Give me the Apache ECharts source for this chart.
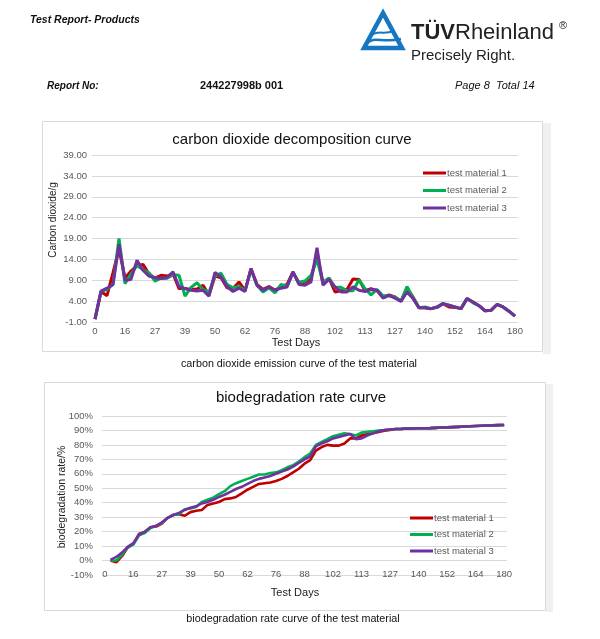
<!DOCTYPE html>
<html><head><meta charset="utf-8">
<script src="https://cdn.jsdelivr.net/npm/echarts@6/dist/echarts.min.js"></script>
<style>html,body{margin:0;padding:0;background:#fff}#c{width:600px;height:639px}</style>
</head><body><div id="c"></div>
<script>
const days = [0,3,6,9,13,16,18,20,22,25,27,29,32,34,37,39,41,43,46,48,50,53,55,57,60,62,65,67,70,73,76,78,81,83,85,88,91,93,96,99,102,104,106,109,111,113,116,119,122,124,127,130,132,135,137,140,142,145,147,150,152,154,157,159,162,164,167,170,173,177,180];
const seriesNames = ['test material 1','test material 2','test material 3'];
const seriesColors = ['#C00000','#00B050','#7030A0'];

const co2Material1 = [-0.3,6.3,5.3,10.8,16.5,9.5,11.2,12.5,12.8,10.5,9.5,10.2,10.0,10.6,7.0,7.0,6.8,6.9,7.8,5.5,10.0,9.6,7.2,7.0,8.6,6.5,11.8,8.0,6.8,7.5,6.6,7.5,8.0,11.0,8.2,8.5,9.5,15.0,8.5,9.5,6.2,6.5,6.8,9.3,9.2,6.5,7.0,6.5,5.0,5.5,5.0,4.0,7.2,5.0,2.4,2.4,2.2,2.6,3.4,2.6,2.5,2.2,4.6,3.8,2.9,1.7,1.8,3.2,2.6,1.6,0.4];
const co2Material2 = [-0.3,6.3,6.8,8.0,19.0,8.2,10.5,12.5,11.5,10.8,8.8,9.5,9.5,10.3,10.2,5.2,7.3,8.4,6.8,6.2,10.0,10.7,8.0,7.2,7.5,6.5,11.5,7.8,6.2,7.2,6.0,8.0,7.5,10.8,8.5,8.8,10.2,14.0,8.3,9.5,7.3,7.3,6.5,6.5,9.1,7.0,5.5,6.8,5.3,5.3,5.0,4.0,7.5,4.8,2.4,2.6,2.2,2.5,3.4,3.0,2.6,2.2,4.6,3.6,2.9,1.7,1.8,3.2,2.6,1.6,0.4];
const co2Material3 = [-0.3,6.4,7.1,8.0,17.6,9.0,9.2,13.8,11.4,10.0,9.6,9.4,9.6,11.0,7.5,7.0,6.6,6.4,6.6,5.2,10.9,9.8,7.5,6.3,7.1,6.3,11.8,7.8,6.6,7.4,6.6,7.1,7.4,11.0,8.0,7.8,8.6,16.8,7.8,9.2,7.4,6.2,6.2,7.4,6.6,6.3,6.8,6.6,4.7,5.4,4.7,3.9,6.2,4.6,2.4,2.4,2.2,2.5,3.4,3.0,2.6,2.2,4.6,3.8,2.9,1.7,1.8,3.2,2.6,1.6,0.4];

const bioMaterial1 = [null,0,-1.2,3,9,11.5,18.5,19.5,23,23.5,25.5,29.5,31.5,32,31,33.5,34.5,35,38.5,39.5,40.5,42.5,43,44,46.5,49,51,53,53.5,54,55,56.5,58.5,61,63.5,67,69.5,76,78.5,80,79.5,79.5,81,84.5,84.5,86.5,87.5,88,89,89.8,90.4,91.0,91.1,91.3,91.4,91.5,91.5,91.6,91.8,92.0,92.1,92.3,92.5,92.7,92.9,93.1,93.3,93.4,93.5,93.7,93.8];
const bioMaterial2 = [null,0,0,4,9,11,17.5,19,22.5,24,26,29.5,31.5,32,35.5,36,37,40.5,42,43.5,46,48,51.5,53.5,55,56.5,58,59.5,59.5,60.5,61,62.5,64.5,66,68.5,71.5,74,80,82,84,86,87,88,87.5,86.5,88.5,89,89.5,90,90.3,90.7,91.0,91.1,91.3,91.4,91.5,91.5,91.6,91.8,92.0,92.1,92.3,92.5,92.7,92.9,93.1,93.3,93.4,93.5,93.7,93.8];
const bioMaterial3 = [null,0.5,2.5,5.5,9.5,12,18,20,23,24,26.5,29.5,31.5,33,35,36.5,37.5,39.5,40.5,42,44,45.5,47.5,49.5,51,53,55,56.5,57.5,58.5,60,61.5,63,65,67.5,70,72,79,81,82.5,84.5,85.5,86.5,87.5,84,84.5,86.5,88,89.5,90.3,90.7,91.0,91.1,91.3,91.4,91.5,91.5,91.6,91.8,92.0,92.1,92.3,92.5,92.7,92.9,93.1,93.3,93.4,93.5,93.7,93.8];

const co2Axis = {min:-1, max:39, step:5};
const bioAxis = {min:-10, max:100, step:10};

const FONT = "'Liberation Sans', Arial, sans-serif";
const chart = echarts.init(document.getElementById('c'), null, {renderer:'canvas'});

function mkSeries(names, datas, ax, width){
  return names.map((n,i)=>({
    name:n, type:'line', xAxisIndex:ax, yAxisIndex:ax, data:datas[i],
    symbol:'none', connectNulls:false, smooth:false,
    lineStyle:{color:seriesColors[i], width:width}, itemStyle:{color:seriesColors[i]}, z:3
  }));
}
const gridLine = {show:true, lineStyle:{color:'#d9d9d9', width:1}};
function txt(x,y,text,font,fill,align,extra){
  return Object.assign({type:'text', x:x, y:y, style:{text:text, font:font, fill:fill||'#000', align:align||'left', verticalAlign:'middle'}}, extra||{});
}
function curve(x1,y1,c1x,c1y,c2x,c2y,x2,y2,w){
  return {type:'bezierCurve', shape:{x1:x1,y1:y1,cpx1:c1x,cpy1:c1y,cpx2:c2x,cpy2:c2y,x2:x2,y2:y2}, style:{fill:'none', stroke:'#1577c2', lineWidth:w}};
}

chart.setOption({
  animation:false,
  backgroundColor:'#ffffff',
  textStyle:{fontFamily:FONT},
  grid:[
    {left:92, right:82, top:155, bottom:317, containLabel:false},
    {left:102, right:93, top:416, bottom:64, containLabel:false}
  ],
  legend:[
    {data:seriesNames, orient:'vertical', left:423, top:168, padding:0, icon:'rect', itemWidth:23, itemHeight:3, itemGap:7.5,
     textStyle:{fontSize:9.5, color:'#595959', fontFamily:FONT, padding:[0,0,0,-4]}},
    {data:seriesNames, orient:'vertical', left:410, top:513, padding:0, icon:'rect', itemWidth:23, itemHeight:3, itemGap:6.5,
     textStyle:{fontSize:9.5, color:'#595959', fontFamily:FONT, padding:[0,0,0,-4]}}
  ],
  xAxis:[
    {type:'category', gridIndex:0, data:days, boundaryGap:true,
     axisLine:{show:false}, axisTick:{show:false},
     axisLabel:{interval:4, margin:4, fontSize:9.5, color:'#595959', fontFamily:FONT}},
    {type:'category', gridIndex:1, data:days, boundaryGap:true,
     axisLine:{show:false}, axisTick:{show:false},
     axisLabel:{interval:4, margin:-1, verticalAlign:'middle', fontSize:9.5, color:'#595959', fontFamily:FONT}}
  ],
  yAxis:[
    {type:'value', gridIndex:0, min:co2Axis.min, max:co2Axis.max, interval:co2Axis.step,
     splitLine:gridLine, axisLine:{show:false}, axisTick:{show:false},
     axisLabel:{margin:5, fontSize:9.5, color:'#595959', fontFamily:FONT, formatter:v=>v.toFixed(2)}},
    {type:'value', gridIndex:1, min:bioAxis.min, max:bioAxis.max, interval:bioAxis.step,
     splitLine:gridLine, axisLine:{show:false}, axisTick:{show:false},
     axisLabel:{margin:9, fontSize:9.5, color:'#595959', fontFamily:FONT, formatter:v=>Math.round(v)+'%'}}
  ],
  series:[].concat(
    mkSeries(seriesNames,[co2Material1,co2Material2,co2Material3],0,3),
    mkSeries(seriesNames,[bioMaterial1,bioMaterial2,bioMaterial3],1,2.6)
  ),
  graphic:[
    {type:'rect', shape:{x:543,y:123,width:8,height:231}, style:{fill:'#f0f0f0'}, z:-5},
    {type:'rect', shape:{x:42.5,y:121.5,width:500,height:230}, style:{fill:'none', stroke:'#d9d9d9', lineWidth:1}, z:-4},
    {type:'rect', shape:{x:546,y:384,width:7,height:228}, style:{fill:'#f0f0f0'}, z:-5},
    {type:'rect', shape:{x:44.5,y:382.5,width:501,height:228}, style:{fill:'none', stroke:'#d9d9d9', lineWidth:1}, z:-4},
    txt(30,20,'Test Report- Products','italic bold 10.5px '+FONT,'#111'),
    txt(47,86,'Report No:','italic bold 10px '+FONT,'#111'),
    txt(200,86,'244227998b 001','bold 11px '+FONT,'#111'),
    txt(455,86,'Page 8  Total 14','italic 11px '+FONT,'#111'),
    {type:'polygon', shape:{points:[[383,13],[364,48],[402,48]]}, style:{fill:'none', stroke:'#1577c2', lineWidth:4.5, lineJoin:'miter'}},
    curve(367,43, 374,36, 382,43, 401,39, 2.5),
    curve(372,35, 378,30, 385,35, 393,31, 2),
    {type:'text', x:411, y:33, style:{text:'{b|TÜV}{r|Rheinland}', verticalAlign:'middle', align:'left',
      rich:{b:{font:'bold 22px '+FONT, fill:'#222'}, r:{font:'22px '+FONT, fill:'#222'}}}},
    txt(559,26,'®','11px '+FONT,'#222'),
    txt(411,56,'Precisely Right.','15px '+FONT,'#222'),
    txt(292,140,'carbon dioxide decomposition curve','15px '+FONT,'#111','center'),
    txt(296,343,'Test Days','11px '+FONT,'#222','center'),
    txt(53,220,'Carbon dioxide/g','10px '+FONT,'#222','center',{rotation:Math.PI/2}),
    txt(299,364,'carbon dioxide emission curve of the test material','10.75px '+FONT,'#111','center'),
    txt(301,398,'biodegradation rate curve','15px '+FONT,'#111','center'),
    txt(295,593,'Test Days','11px '+FONT,'#222','center'),
    txt(62,497,'biodegradation rate/%','10.5px '+FONT,'#222','center',{rotation:Math.PI/2}),
    txt(293,619,'biodegradation rate curve of the test material','10.75px '+FONT,'#111','center')
  ]
});
</script></body></html>
